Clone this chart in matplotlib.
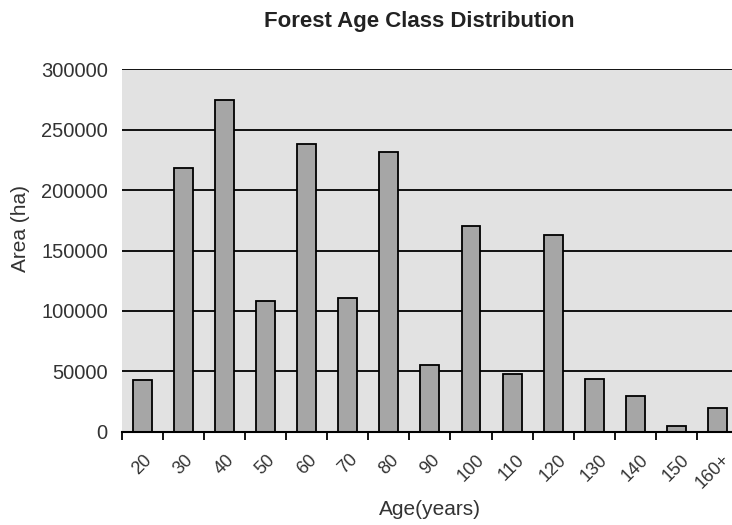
import matplotlib.pyplot as plt
import matplotlib.transforms as mtransforms
import numpy as np

plt.rcParams['font.family'] = ['Liberation Sans', 'DejaVu Sans']

age_classes = ['20', '30', '40', '50', '60', '70', '80', '90', '100',
               '110', '120', '130', '140', '150', '160+']
area_ha = [43000, 218000, 275000, 108500, 238500, 111000, 232000, 55500,
           170000, 47500, 163000, 44000, 29500, 4500, 20000]
y_ticks = [0, 50000, 100000, 150000, 200000, 250000, 300000]

fig = plt.figure(figsize=(7.32, 5.25), dpi=100)
ax = fig.add_axes([0.1663, 0.1777, 0.842, 0.690])
ax.set_facecolor('#e2e2e2')

x = np.arange(len(age_classes))
ax.bar(x, area_ha, width=0.46, color='#a6a6a6', edgecolor='black',
       linewidth=1.3, zorder=3)

ax.set_xlim(-0.5, len(age_classes) - 0.5)
ax.set_ylim(0, 300000)
ax.set_yticks(y_ticks)
ax.set_yticklabels([str(v) for v in y_ticks])
ax.yaxis.grid(True, color='#111111', linewidth=1.4, zorder=1)
ax.set_axisbelow(True)

# labels sit at bar centres, tick marks on the category boundaries
ax.set_xticks(x)
ax.set_xticklabels(age_classes, rotation=45, ha='center')
ax.set_xticks(np.arange(len(age_classes) + 1) - 0.5, minor=True)
ax.tick_params(axis='x', which='major', length=0, pad=14, labelsize=13,
               labelcolor='#333333')
ax.tick_params(axis='x', which='minor', length=6, width=1.3, color='black')
ax.tick_params(axis='y', length=0, pad=10, labelsize=14.5, labelcolor='#333333')

# nudge the last label left so it stays inside the figure
last = ax.get_xticklabels()[-1]
last.set_transform(last.get_transform() +
                   mtransforms.ScaledTranslation(-5 / 100, 0, fig.dpi_scale_trans))

for side in ['left', 'right', 'top']:
    ax.spines[side].set_visible(False)
ax.spines['bottom'].set_linewidth(1.5)
ax.spines['bottom'].set_zorder(4)

ax.set_xlabel('Age(years)', fontsize=15, color='#333333', labelpad=6)
fig.text(20 / 732, 1 - 228 / 525, 'Area (ha)', rotation=90,
         ha='center', va='center', fontsize=15, color='#333333')
fig.text(419 / 732, 1 - 22 / 525, 'Forest Age Class Distribution',
         ha='center', va='center', fontsize=16, fontweight='bold',
         color='#222222')

plt.savefig('out.png', dpi=100)
